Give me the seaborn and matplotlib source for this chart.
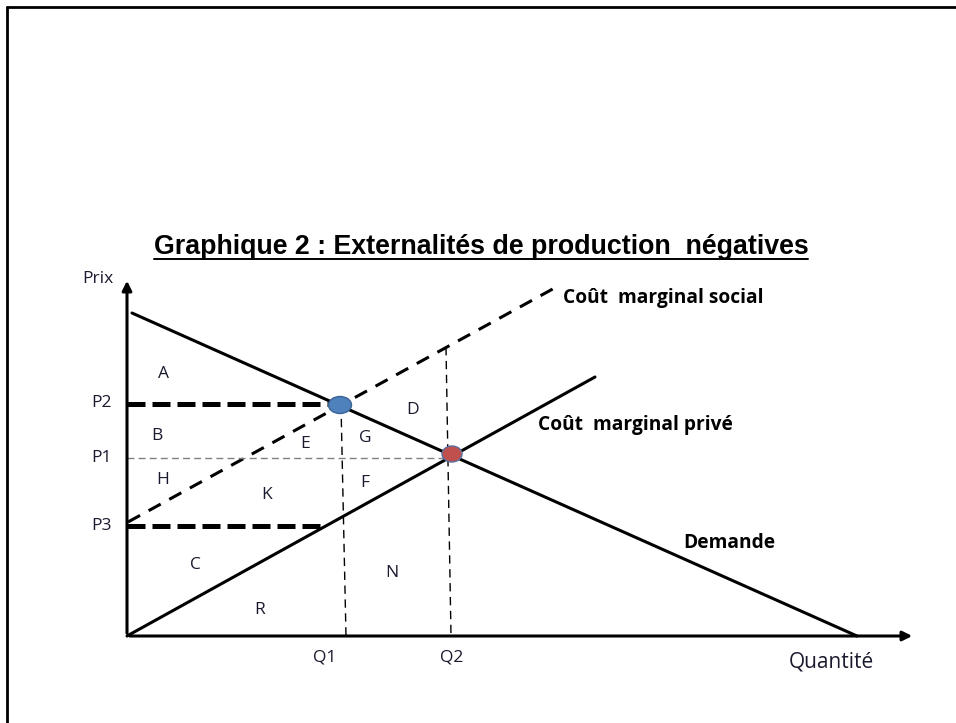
import numpy as np
import pandas as pd
import matplotlib.pyplot as plt
from matplotlib.patches import Ellipse
import seaborn as sns

sns.set_theme(style="white")
plt.rcParams["font.family"] = ["Open Sans", "DejaVu Sans"]

# diagram data (quantity, price), origin at the axes corner
demande_q = [5, 730]
demande_p = [323, 0]
cm_prive_q = [0, 468]
cm_prive_p = [0, 259]
cm_social_q = [1, 433]
cm_social_p = [114, 351]

P1, P2, P3 = 178, 232, 110
Q1_top, Q1_bot = 214, 219
Q2_top, Q2_bot = 319, 324
eq_social = (213, 231)
eq_prive = (325, 182)

zones = ["A", "B", "E", "G", "D", "H", "K", "F", "C", "N", "R"]
zones_q = [36, 30, 178, 238, 286, 36, 140, 238, 68, 265, 133]
zones_p = [262, 200, 192, 198, 226, 156, 141, 153, 71, 63, 26]

W, H = 956, 723
ox, oy = 127, 636

fig = plt.figure(figsize=(W / 100, H / 100), dpi=100)
ax = fig.add_axes([0, 0, 1, 1])
ax.set_xlim(-ox, W - ox)
ax.set_ylim(oy - H, oy)
ax.axis("off")

# border (top and left only)
fig.add_artist(plt.Line2D([7 / W, 7 / W], [0, 1 - 7 / H], color="black", lw=2))
fig.add_artist(plt.Line2D([7 / W, 1], [1 - 7 / H, 1 - 7 / H], color="black", lw=2))

# axes with arrows
ax.annotate("", xy=(0, 358), xytext=(0, 0),
            arrowprops=dict(arrowstyle="-|>", color="black", lw=2.2, mutation_scale=14))
ax.annotate("", xy=(788, 0), xytext=(0, 0),
            arrowprops=dict(arrowstyle="-|>", color="black", lw=2.2, mutation_scale=14))

# curves
sns.lineplot(x=demande_q, y=demande_p, ax=ax, color="black", lw=2.2)
sns.lineplot(x=cm_prive_q, y=cm_prive_p, ax=ax, color="black", lw=2.2)
sns.lineplot(x=cm_social_q, y=cm_social_p, ax=ax, color="black", lw=2.2,
             linestyle=(0, (4.5, 3.2)))

# price and quantity guides
sns.lineplot(x=[0, eq_social[0] - 8], y=[P2, P2], ax=ax, color="black", lw=3.6,
             linestyle=(0, (3.6, 1.4)))
sns.lineplot(x=[0, 196], y=[P3, P3], ax=ax, color="black", lw=3.6,
             linestyle=(0, (3.6, 1.4)))
sns.lineplot(x=[0, eq_prive[0]], y=[P1, P1], ax=ax, color="#808080", lw=1.0,
             linestyle=(0, (5, 3)))
sns.lineplot(x=[Q1_top, Q1_bot], y=[eq_social[1], 0], ax=ax, color="black", lw=1.0,
             linestyle=(0, (6, 4)))
sns.lineplot(x=[Q2_top, Q2_bot], y=[289, 0], ax=ax, color="black", lw=1.0,
             linestyle=(0, (6, 4)))

# equilibrium points
ax.add_patch(Ellipse(eq_social, 23, 17, facecolor="#4F81BD", edgecolor="#3A6496", lw=1, zorder=5))
ax.add_patch(Ellipse(eq_prive, 20, 16, facecolor="#C0504D", edgecolor="#5B6E9E", lw=1, zorder=5))

# zone letters
for z, q, p in zip(zones, zones_q, zones_p):
    ax.text(q, p, z, ha="center", va="center", fontsize=12.5, color="#1a1a2e")

# axis labels
lab = dict(fontsize=12.5, color="#1a1a2e", va="center")
ax.text(-14, 357, "Prix", ha="right", **lab)
ax.text(-15, P2 + 1, "P2", ha="right", **lab)
ax.text(-15, P1, "P1", ha="right", **lab)
ax.text(-15, P3, "P3", ha="right", **lab)
ax.text(198, -21, "Q1", ha="center", **lab)
ax.text(325, -21, "Q2", ha="center", **lab)
ax.text(704, -26, "Quantité", ha="center", fontsize=15, color="#1a1a2e", va="center")

bold = dict(fontsize=13.8, fontweight="bold", color="black", va="center", ha="left")
ax.text(436, 338, "Coût  marginal social", **bold)
ax.text(411, 211, "Coût  marginal privé", **bold)
ax.text(556, 93, "Demande", **bold)

# title, underlined
t = ax.text(354, 389, "Graphique 2 : Externalités de production  négatives",
            ha="center", va="center", fontsize=19.3, fontweight="bold",
            family=["Liberation Sans Narrow", "Liberation Sans"], color="black")
fig.canvas.draw()
bb = t.get_window_extent().transformed(ax.transData.inverted())
ax.plot([bb.x0, bb.x1], [bb.y0 + 1, bb.y0 + 1], color="black", lw=1.4)

fig.savefig("out.png", dpi=100, facecolor="white")
